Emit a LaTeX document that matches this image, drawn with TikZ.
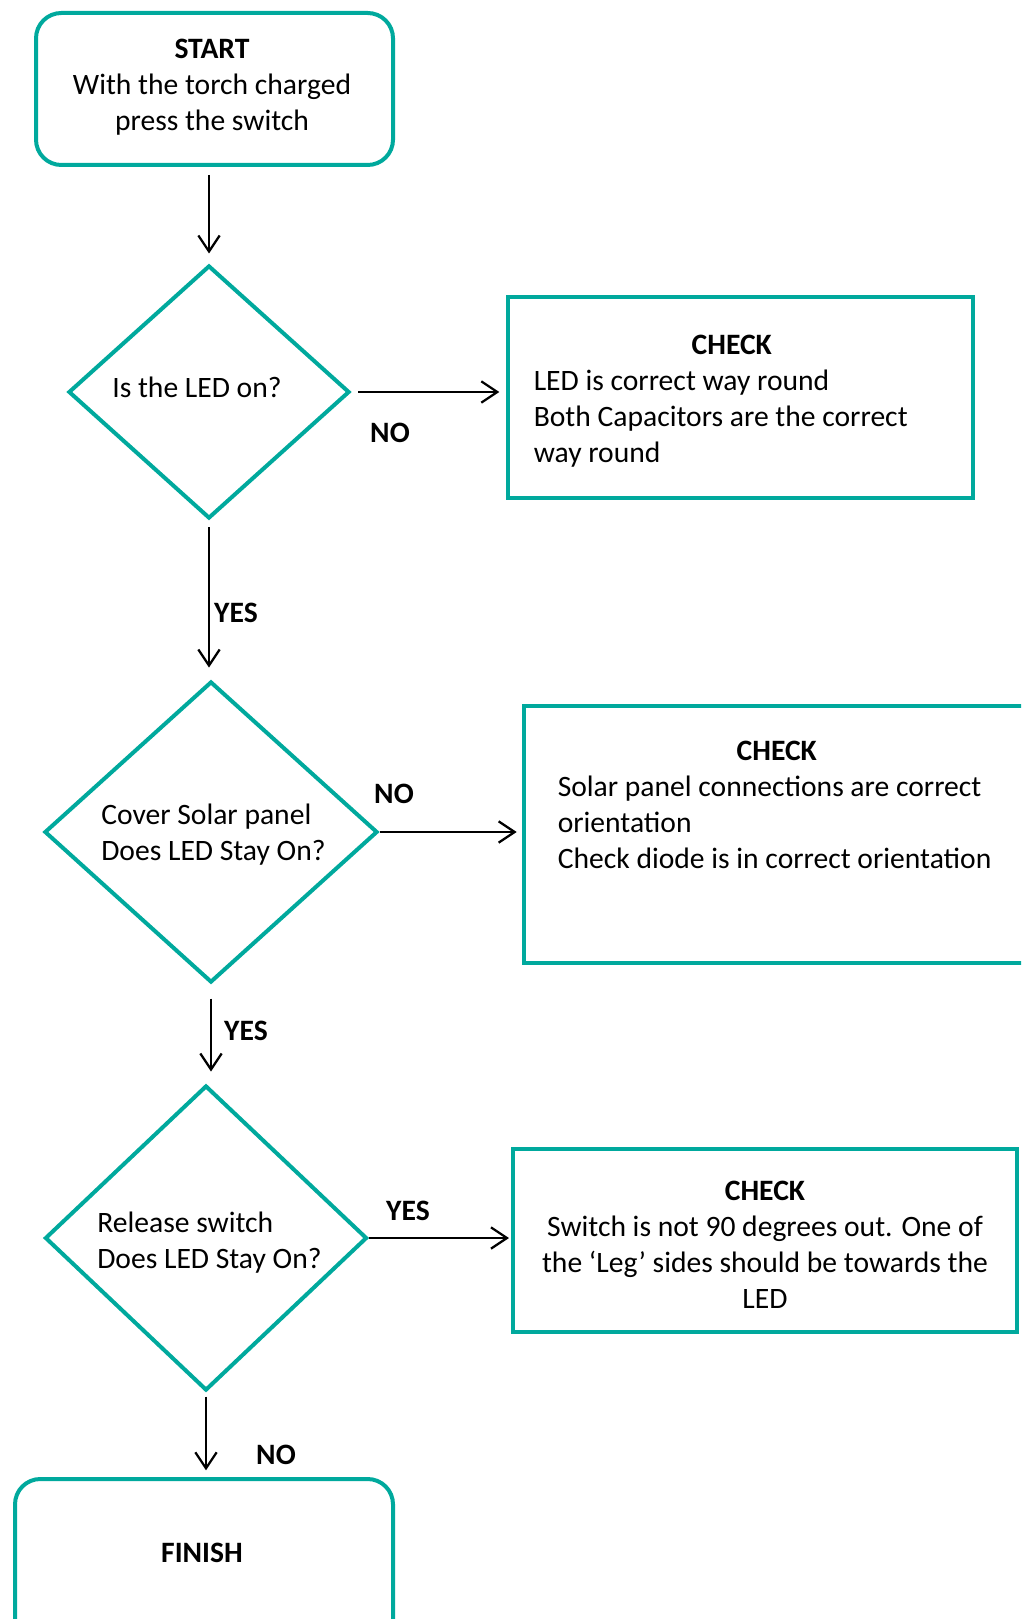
\documentclass[tikz,border=0pt]{standalone}
\usepackage{fontspec}
\setmainfont{Carlito}
\usetikzlibrary{shapes.geometric,arrows.meta}
\definecolor{teal1}{RGB}{0,169,157}
\begin{document}
\begin{tikzpicture}[x=0.75pt,y=-0.75pt,
  every node/.style={font=\fontsize{22.2pt}{27pt}\selectfont, inner sep=0pt},
  roundbox/.style={draw=teal1, line width=3pt, rounded corners=19pt, rectangle},
  checkbox/.style={draw=teal1, line width=3pt, rectangle},
  decision/.style={draw=teal1, line width=3pt, diamond},
  arr/.style={draw=black, line width=1.7pt, -{Straight Barb[length=12pt,width=16pt]}},
  lbl/.style={font=\fontsize{22.2pt}{27pt}\selectfont\bfseries}]
\useasboundingbox (0,0) rectangle (1021,1619);
\clip (0,0) rectangle (1021,1619);

% shapes
\node[roundbox, minimum width=267.75pt, minimum height=114pt] (s) at (214.5,89) {};
\node[decision, minimum width=210.75pt, minimum height=189.75pt] (d1) at (209,392) {};
\node[checkbox, minimum width=349.1pt, minimum height=150.75pt] (c1) at (740.75,397.5) {};
\node[decision, minimum width=249.75pt, minimum height=225.75pt] (d2) at (211,832) {};
\node[checkbox, minimum width=387pt, minimum height=192.75pt] (c2) at (782,834.5) {};
\node[decision, minimum width=241.5pt, minimum height=228.75pt] (d3) at (206,1238) {};
\node[checkbox, minimum width=378pt, minimum height=137.25pt] (c3) at (765,1240.5) {};
\node[roundbox, minimum width=283.5pt, minimum height=135.75pt] (f) at (204,1569.5) {};

% texts
\node[align=center] (st) at (212,87) {\textbf{START}\\With the torch charged\\press the switch};
\node (d1t) at (197,387) {Is the LED on?};
\node[anchor=west] (c1t) at (533.5,401.5) {\begin{tabular}{@{}l@{}}\multicolumn{1}{@{}l@{}}{\makebox[297pt]{\textbf{CHECK}}}\\LED is correct way round\\Both Capacitors are the correct\\way round\end{tabular}};
\node[anchor=west, align=left] (d2t) at (101,835) {Cover Solar panel\\Does LED Stay On?};
\node[anchor=west] (c2t) at (557.5,807) {\begin{tabular}{@{}l@{}}\multicolumn{1}{@{}l@{}}{\makebox[328.5pt]{\textbf{CHECK}}}\\Solar panel connections are correct\\orientation\\Check diode is in correct orientation\end{tabular}};
\node[anchor=west, align=left] (d3t) at (97,1243) {Release switch\\Does LED Stay On?};
\node[align=center] (c3t) at (765,1245) {\textbf{CHECK}\\Switch is not 90 degrees out. One of\\the ‘Leg’ sides should be towards the\\LED};
\node (ft) at (202,1553) {\textbf{FINISH}};

% connectors
\draw[arr, shorten <=6pt, shorten >=7.5pt] (d1.north |- s.south) -- (d1.north);
\draw[arr, shorten <=5pt, shorten >=5pt] (d1.east) -- (d1.east -| c1.west);
\draw[arr, shorten <=5pt, shorten >=9pt] (d1.south) -- (d1.south |- d2.north);
\draw[arr, shorten >=4pt] (d2.east) -- (d2.east -| c2.west);
\draw[arr, shorten <=10.5pt, shorten >=9pt] (d2.south) -- (d2.south |- d3.north);
\draw[arr, shorten >=1.5pt] (d3.east) -- (d3.east -| c3.west);
\draw[arr, shorten <=3pt, shorten >=5pt] (d3.south) -- (d3.south |- f.north);

% labels
\node[lbl] (no1) at (390,433) {NO};
\node[lbl] (yes1) at (236,613) {YES};
\node[lbl] (no2) at (394,794) {NO};
\node[lbl] (yes2) at (246,1031) {YES};
\node[lbl] (yes3) at (408,1211) {YES};
\node[lbl] (no3) at (276,1455) {NO};
\end{tikzpicture}
\end{document}
